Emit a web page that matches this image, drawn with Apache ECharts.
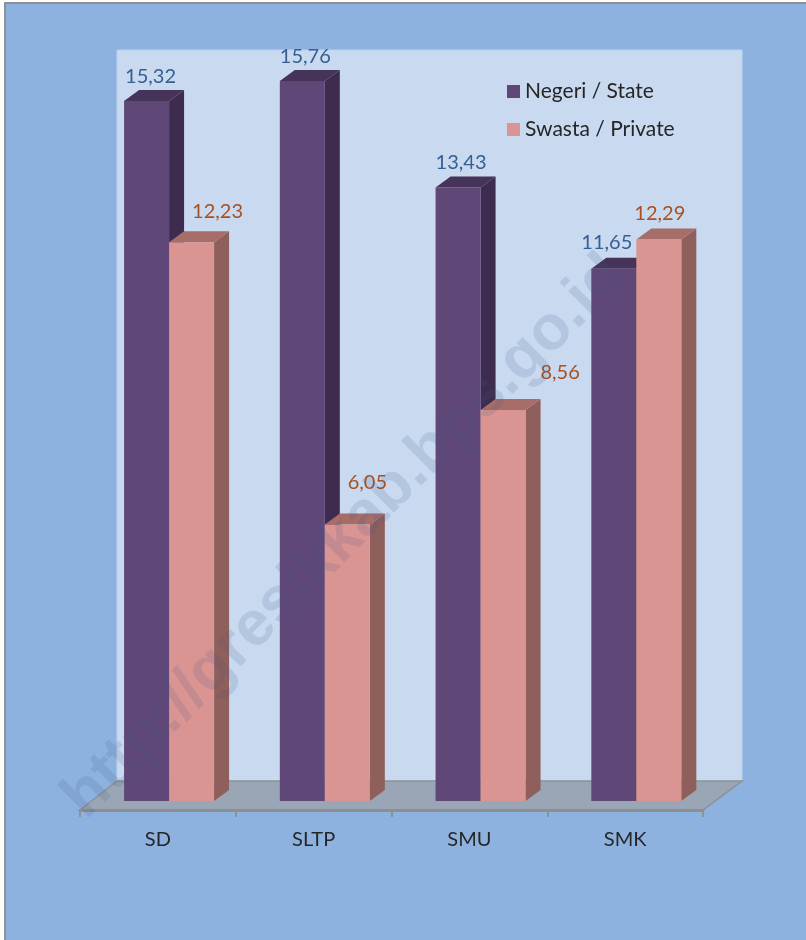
<!DOCTYPE html>
<html>
<head>
<meta charset="utf-8">
<style>html,body{margin:0;padding:0;background:#fff}#c{width:806px;height:940px}</style>
<script src="https://cdn.jsdelivr.net/npm/echarts@6/dist/echarts.min.js"></script>
</head>
<body>
<div id="c"></div>
<script>
const categories = ['SD', 'SLTP', 'SMU', 'SMK'];
const negeriValues = [15.32, 15.76, 13.43, 11.65];
const swastaValues = [12.23, 6.05, 8.56, 12.29];
const negeriName = 'Negeri / State';
const swastaName = 'Swasta / Private';
const watermark = 'http://gresikkab.bps.go.id';
// hand-placed data-label offsets from the front-face top centre, as in the picture
const negeriLabelOffsets = [[4, -25], [3, -24], [3, -25], [-7, -26]];
const swastaLabelOffsets = [[26, -31], [20, -42], [57, -37], [1, -26]];

const FONT = 'Lato, "Open Sans", sans-serif';
const DEPTH_X = 15, DEPTH_Y = 11;   // visual depth of each bar
const SHIFT_X = 11.2, SHIFT_Y = -9; // bars stand in the middle of the floor
const BAR_FRACTION = 45 / 155.75;

function bar3d(side, palette, labelColor, offsets) {
  return function (params, api) {
    const i = api.value(0), v = api.value(1);
    const top = api.coord([i, v]);
    const base = api.coord([i, 0]);
    const w = api.size([1, 0])[0] * BAR_FRACTION;
    const x0 = top[0] + SHIFT_X + (side < 0 ? -w : 0);
    const x1 = x0 + w;
    const yT = top[1] + SHIFT_Y, yB = base[1] + SHIFT_Y;
    const off = offsets[i];
    return {
      type: 'group',
      children: [
        { type: 'polygon', shape: { points: [[x1, yT], [x1 + DEPTH_X, yT - DEPTH_Y], [x1 + DEPTH_X, yB - DEPTH_Y], [x1, yB]] }, style: { fill: palette.side } },
        { type: 'polygon', shape: { points: [[x0, yT], [x0 + DEPTH_X, yT - DEPTH_Y], [x1 + DEPTH_X, yT - DEPTH_Y], [x1, yT]] }, style: { fill: palette.top } },
        { type: 'rect', shape: { x: x0, y: yT, width: w, height: yB - yT }, style: { fill: palette.front } },
        { type: 'text', x: (x0 + x1) / 2 + off[0], y: yT + off[1], z2: 20,
          style: { text: v.toFixed(2).replace('.', ','), fill: labelColor, font: '20px ' + FONT, align: 'center', verticalAlign: 'middle' } }
      ]
    };
  };
}

const chart = echarts.init(document.getElementById('c'), null, { renderer: 'canvas', width: 806, height: 940 });
chart.setOption({
  animation: false,
  backgroundColor: '#ffffff',
  grid: { left: 80, top: 79, width: 623, height: 731 },
  xAxis: {
    type: 'category', data: categories, z: 3,
    axisLine: { lineStyle: { color: '#8b8f93', width: 3 } },
    axisTick: { show: true, length: 7, lineStyle: { color: '#8f9295', width: 2 } },
    axisLabel: { color: '#262626', fontFamily: FONT, fontSize: 20, margin: 20 }
  },
  yAxis: { type: 'value', min: 0, max: 16, show: false, splitLine: { show: false } },
  legend: {
    left: 502, top: 76, orient: 'vertical', itemWidth: 13, itemHeight: 13, itemGap: 17,
    icon: 'rect',
    textStyle: { color: '#262626', fontFamily: FONT, fontSize: 21 },
    data: [negeriName, swastaName]
  },
  graphic: { elements: [
    { type: 'rect', shape: { x: 5, y: 3, width: 810, height: 950 },
      style: { stroke: '#8f9294', lineWidth: 2, fill: '#8eb2df' } },
    { type: 'rect', shape: { x: 117, y: 50, width: 625, height: 731 },
      style: { fill: '#c8d9f0', stroke: '#bcd2ef', lineWidth: 1 } },
    { type: 'polygon', shape: { points: [[80, 810], [117, 781], [742, 781], [703, 810]] },
      style: { fill: '#9aa6b5', stroke: '#8d9194', lineWidth: 1.5 } }
  ] },
  series: [
    { name: negeriName, type: 'custom', coordinateSystem: 'cartesian2d', clip: false,
      itemStyle: { color: '#5f4778' },
      encode: { x: 0, y: 1 },
      data: negeriValues.map((v, i) => [i, v]),
      renderItem: bar3d(-1, { front: '#5f4778', side: '#3e2c4e', top: '#46335a' }, '#366092', negeriLabelOffsets) },
    { name: swastaName, type: 'custom', coordinateSystem: 'cartesian2d', clip: false,
      itemStyle: { color: '#da9492' },
      encode: { x: 0, y: 1 },
      data: swastaValues.map((v, i) => [i, v]),
      renderItem: bar3d(1, { front: '#da9492', side: '#8f5f5c', top: '#a66d69' }, '#a9501f', swastaLabelOffsets) },
    { name: 'watermark', type: 'custom', coordinateSystem: 'none', silent: true, z: 50,
      data: [[0]],
      renderItem: function () {
        return { type: 'text', x: 345, y: 537, rotation: Math.PI / 4, silent: true,
          style: { text: watermark, fill: 'rgba(70,90,125,0.15)', font: 'bold 63px "Liberation Sans", Arial, sans-serif', align: 'center', verticalAlign: 'middle' } };
      } }
  ]
});
</script>
</body>
</html>
